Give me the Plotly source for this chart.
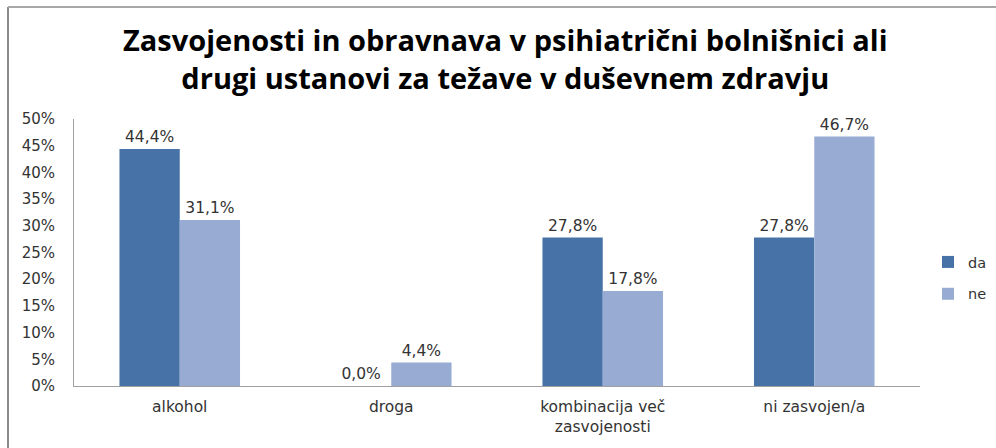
import plotly.graph_objects as go

categories = ["alkohol", "droga", "kombinacija več<br>zasvojenosti", "ni zasvojen/a"]
da_values = [44.4, 0.0, 27.8, 27.8]
ne_values = [31.1, 4.4, 17.8, 46.7]
series_names = ["da", "ne"]
y_ticks = [0, 5, 10, 15, 20, 25, 30, 35, 40, 45, 50]
y_tick_labels = [f"{v}%" for v in y_ticks]
title_text = "Zasvojenosti in obravnava v psihiatrični bolnišnici ali<br>drugi ustanovi za težave v duševnem zdravju"

NUMFONT = "DejaVu Sans, sans-serif"
TITLEFONT = "Open Sans, sans-serif"
colors = ["#4672A8", "#97ABD3"]

def fmt(v):
    return f"{v:.1f}%".replace(".", ",")

fig = go.Figure()
for name, vals, col in zip(series_names, [da_values, ne_values], colors):
    fig.add_trace(go.Bar(
        x=categories, y=vals, name=name, legendgroup=name,
        marker=dict(color=col, line=dict(width=0)),
        text=[fmt(v) for v in vals], textposition="outside",
        textfont=dict(size=15.5, color="#333333", family=NUMFONT),
        cliponaxis=False,
    ))

W, H = 996, 448
L, R, T, B = 74, 76, 119, 62
pw, ph = W - L - R, H - T - B

def px_x(x):
    return (x - L) / pw

def px_y(y):
    return (H - B - y) / ph

fig.update_layout(
    width=W, height=H,
    margin=dict(l=L, r=R, t=T, b=B, autoexpand=False),
    paper_bgcolor="white", plot_bgcolor="white",
    barmode="group", bargap=0.43, bargroupgap=0,
    font=dict(family=NUMFONT, size=15, color="#333333"),
    showlegend=True,
    legend=dict(
        x=px_x(928), y=px_y(246), xanchor="left", yanchor="top",
        font=dict(size=14.5, color="#333333", family=NUMFONT),
        itemwidth=30, tracegroupgap=10,
        bgcolor="rgba(0,0,0,0)",
    ),
    xaxis=dict(
        showline=True, linecolor="#A0A0A0", linewidth=1,
        ticks="", tickfont=dict(size=15.5, color="#333333", family=NUMFONT),
        showgrid=False, ticklabelstandoff=6,
    ),
    yaxis=dict(
        range=[0, 50], tickvals=y_ticks, ticktext=y_tick_labels,
        showline=True, linecolor="#A0A0A0", linewidth=1,
        ticks="", showgrid=False, zeroline=False,
        tickfont=dict(size=15, color="#333333", family=NUMFONT),
        ticklabelstandoff=15,
    ),
    annotations=[dict(
        text=title_text, xref="paper", yref="paper",
        x=px_x(506), y=px_y(58), xanchor="center", yanchor="middle",
        showarrow=False, align="center",
        font=dict(family=TITLEFONT, size=29, color="#000000", weight="bold"),
    )],
    shapes=[
        dict(type="line", xref="paper", yref="paper",
             x0=px_x(8), x1=px_x(8), y0=px_y(H + 5), y1=px_y(7),
             line=dict(color="#8C8C8C", width=2)),
        dict(type="line", xref="paper", yref="paper",
             x0=px_x(8), x1=px_x(W + 5), y0=px_y(7), y1=px_y(7),
             line=dict(color="#A8A8A8", width=2)),
    ],
)

fig.write_html("out.html", config={"displayModeBar": False},
               post_script="document.body.style.margin='0';")
